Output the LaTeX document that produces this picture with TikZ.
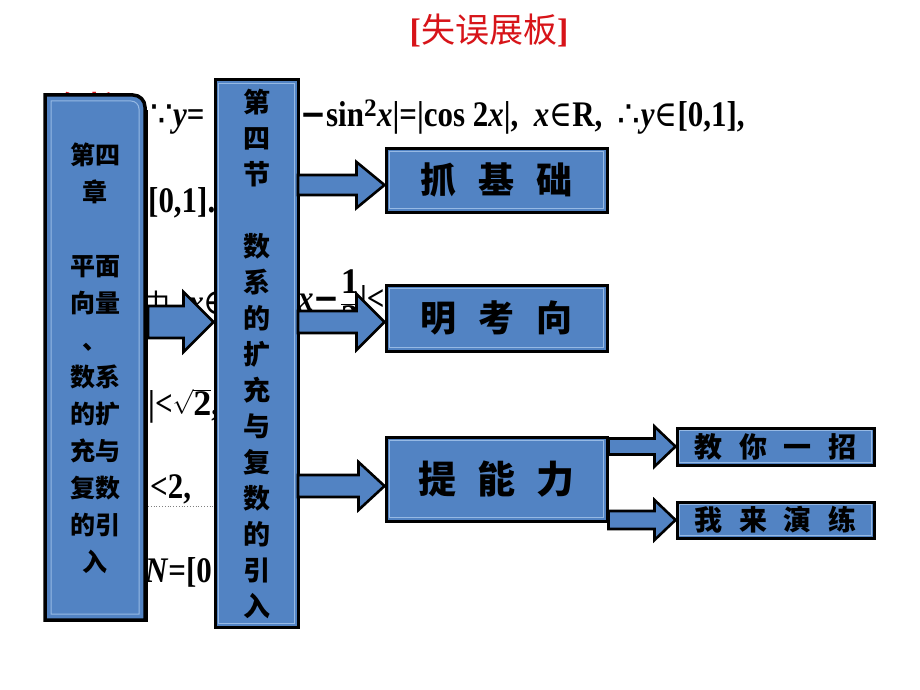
\documentclass[tikz,border=0pt]{standalone}
\usepackage{fontspec}
\setmainfont{Liberation Serif}
\newfontfamily\bgfont{Liberation Serif}[FakeStretch=0.86]
\newfontfamily\cjk{Noto Sans CJK SC}
\newfontfamily\symf{DejaVu Serif}[FakeStretch=0.86]
\newfontfamily\symsans{DejaVu Sans}
\usetikzlibrary{calc}
\definecolor{boxblue}{RGB}{82,131,195}
\definecolor{innerblue}{RGB}{150,185,228}
\definecolor{titlered}{RGB}{215,20,25}
\newcommand\blockarrow[5]{%
  \draw[barrow] let \p1=#1, \p2=#2 in
    (\x1,\y1+#3pt) -- (\x2-#5pt,\y1+#3pt) -- (\x2-#5pt,\y1+#4pt) -- (\x2,\y1)
    -- (\x2-#5pt,\y1-#4pt) -- (\x2-#5pt,\y1-#3pt) -- (\x1,\y1-#3pt) -- cycle;}
\begin{document}
\begin{tikzpicture}[x=1pt,y=-1pt,
  box/.style={draw=black, line width=3pt, fill=boxblue, inner sep=0pt, text=black, align=center},
  innerline/.style={draw=innerblue, line width=1pt},
  barrow/.style={draw=black, line width=2.6pt, fill=boxblue, line join=miter},
  bg/.style={inner sep=0pt, anchor=base west, font=\bgfont\bfseries\fontsize{36}{36}\selectfont}]
\useasboundingbox[fill=white] (0,0) rectangle (920,690);

% title
\node[font=\cjk\fontsize{34}{34}\selectfont, text=titlered] (title) at (489,30)
  {{\rmfamily\bfseries [}失误展板{\rmfamily\bfseries ]}};

% background solution text (partly hidden)
\node[bg, text=titlered, font=\cjk\bfseries\fontsize{26}{26}\selectfont] (t0) at (62,114) {解析：};
\node[bg] (t1a) at (150,126) {{\symsans\mdseries ∵}\textit{y}=};
\node[bg] (t1b) at (300,126) {{\symf −}sin$^{\mathbf{2}}$\textit{x}|=|cos 2\textit{x}|,\ \ \textit{x}{\symf\mdseries ∈}R,\ \ {\symsans\mdseries ∴}\textit{y}{\symf\mdseries ∈}[0,1],};
\node[bg] (t2) at (148,212) {[0,1].};
\node[bg] (t3a) at (142,314) {{\cjk\mdseries\fontsize{28}{28}\selectfont 中}. \textit{x}{\symf\mdseries ∈}};
\node[bg] (t3b) at (298,310) {\textit{x}{\symf −}$\displaystyle\frac{\mathbf 1}{\mathbf 2}$|<$\sqrt{\mathbf 2}$};
\node[bg] (t4) at (148,415) {|<$\sqrt{\mathbf 2}$,};
\node[bg] (t5) at (150,498) {<2,};
\draw[dotted, gray, line width=0.8pt] (148,506) -- (215,506);
\node[bg] (t6) at (145,582) {\textit{N}=[0};

% left chapter box (rounded top-right corner)
\draw[box, line width=3.5pt] (45,620) -- (45,95) -- (133,95) arc[start angle=-90,end angle=0,radius=12] -- (145,620) -- cycle;
\draw[innerline] (51,614) -- (51,101) -- (131,101) arc[start angle=-90,end angle=0,radius=8] -- (139,614) -- cycle;
\draw[black, line width=2pt] (147,110) -- (147,621) -- (46,621);
\node[inner sep=0pt, align=center, minimum width=100, minimum height=525,
  font=\cjk\bfseries\fontsize{25}{37}\selectfont] (L) at (95,358)
  {第四\\章\\~\\平面\\向量\\、\\数系\\的扩\\充与\\复数\\的引\\入};

% middle section box
\node[box, minimum width=83, minimum height=547, font=\cjk\bfseries\fontsize{27}{36}\selectfont] (M) at (256.5,353.5)
  {第\\四\\节\\~\\数\\系\\的\\扩\\充\\与\\复\\数\\的\\引\\入};
\draw[innerline] ([shift={(5,5)}]M.north west) rectangle ([shift={(-5,-5)}]M.south east);

% right boxes
\node[box, minimum width=221, minimum height=64, font=\cjk\bfseries\fontsize{36}{36}\selectfont] (T1) at (496.5,180) {抓\hspace{0.6em}基\hspace{0.6em}础};
\node[box, minimum width=221, minimum height=66, font=\cjk\bfseries\fontsize{36}{36}\selectfont] (T2) at (496.5,318) {明\hspace{0.6em}考\hspace{0.6em}向};
\node[box, minimum width=221, minimum height=84, font=\cjk\bfseries\fontsize{38}{38}\selectfont] (T3) at (496.5,479) {提\hspace{0.55em}能\hspace{0.55em}力};
\node[box, minimum width=197, minimum height=37, font=\cjk\bfseries\fontsize{28}{28}\selectfont] (S1) at (775.5,446.5) {教\hspace{0.6em}你\hspace{0.6em}一\hspace{0.6em}招};
\node[box, minimum width=197, minimum height=36, font=\cjk\bfseries\fontsize{28}{28}\selectfont] (S2) at (775.5,520) {我\hspace{0.6em}来\hspace{0.6em}演\hspace{0.6em}练};
\foreach \n in {T1,T2,T3}
  \draw[innerline] ([shift={(5,5)}]\n.north west) rectangle ([shift={(-5,-5)}]\n.south east);
\foreach \n in {S1,S2}
  \draw[innerline] ([shift={(4,4)}]\n.north west) rectangle ([shift={(-4,-4)}]\n.south east);

% block arrows
\coordinate (j0) at (148,322);
\coordinate (j1) at (298,185);
\coordinate (j2) at (298,322);
\coordinate (j3) at (298,486);
\blockarrow{(j0)}{(M.west)}{16}{30}{30}
\blockarrow{(j1)}{(T1.west)}{10}{23}{28}
\blockarrow{(j2)}{(T2.west)}{11}{28}{28}
\blockarrow{(j3)}{(T3.west)}{11}{24}{26}
\blockarrow{(T3.east |- S1.west)}{(S1.west)}{8}{20}{21}
\blockarrow{(T3.east |- S2.west)}{(S2.west)}{9}{20}{21}
\end{tikzpicture}
\end{document}
